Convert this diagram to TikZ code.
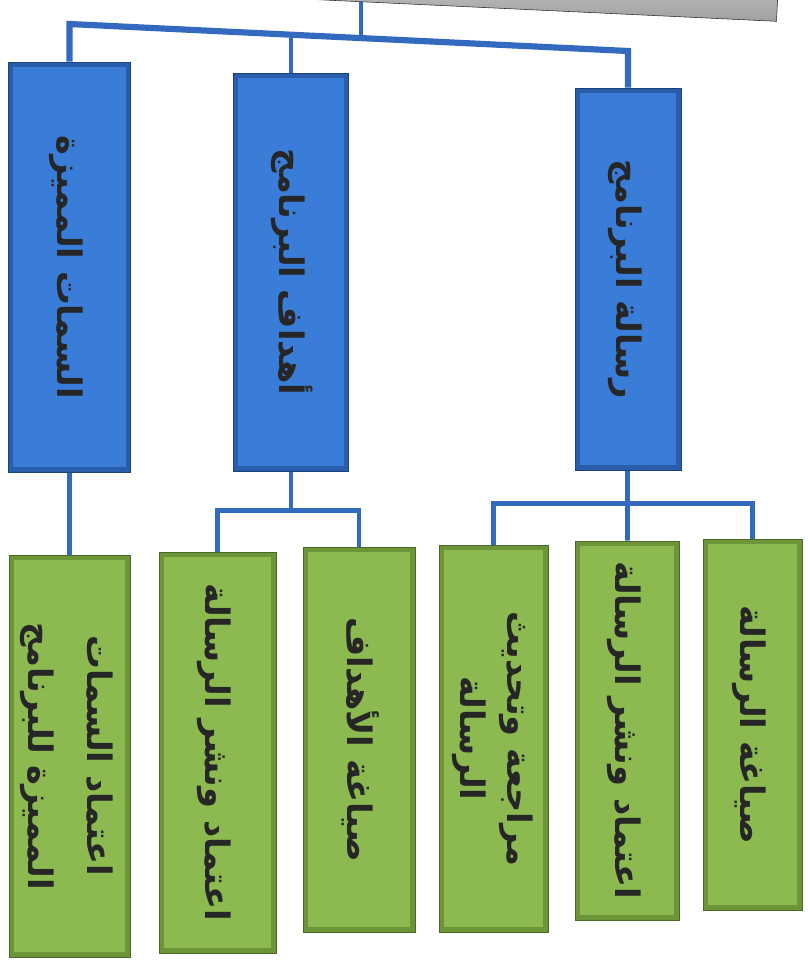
\documentclass[tikz,border=0pt]{standalone}
\usepackage{graphicx}
\usepackage{fontspec}
\newfontfamily\arabicfont[Script=Arabic]{DejaVu Sans}
\TeXXeTstate=1
\usetikzlibrary{backgrounds}

\definecolor{orgblue}{HTML}{3A7DD8}
\definecolor{orgbluedark}{HTML}{2A5EAD}
\definecolor{orggreen}{HTML}{8DBA50}
\definecolor{orggreendark}{HTML}{6B9537}
\definecolor{linkblue}{HTML}{3369BF}

\newcommand{\ar}[1]{\beginR #1\endR}
\newcommand{\vtext}[2][42]{\rotatebox{-90}{\arabicfont\bfseries\fontsize{24}{#1}\selectfont
  \begin{tabular}{@{}c@{}}#2\end{tabular}}}

\tikzset{
  bevel/.style 2 args={rectangle, inner sep=0pt, fill=#2, draw=#2!70!black,
    line width=0.5pt, text=black!85,
    path picture={\fill[#1] ([shift={(3.5pt,-3.5pt)}]path picture bounding box.north west)
      rectangle ([shift={(-3.5pt,3.5pt)}]path picture bounding box.south east);}},
  bluebox/.style={bevel={orgblue}{orgbluedark}},
  greenbox/.style={bevel={orggreen}{orggreendark}},
  boxdim/.style 2 args={minimum width=#1*0.025cm, minimum height=#2*0.025cm},
  link/.style={draw=linkblue, line width=3.4pt},
}

\begin{document}
\begin{tikzpicture}[x=0.025cm, y=-0.025cm]
  \useasboundingbox (0,0) rectangle (808,960);
  % top box, only its lower edge is on the page
  \node[boxdim={832}{50}, rotate=-2.7, anchor=south, draw=gray!35!black,
    top color=gray!15, bottom color=gray!75] (root) at (361,2) {};
  % second row
  \node[bluebox, boxdim={122}{410}] (traits) at (69.5,267) {\vtext{\ar{السمات المميزة}}};
  \node[bluebox, boxdim={115}{398}] (goals) at (291,272) {\vtext{\ar{أهداف البرنامج}}};
  \node[bluebox, boxdim={106}{382}] (mission) at (628,279) {\vtext{\ar{رسالة البرنامج}}};
  % bottom row
  \node[greenbox, boxdim={121}{402}] (adoptT) at (69.5,756)
    {\vtext{\ar{اعتماد السمات}\\\ar{المميزة للبرنامج}}};
  \node[greenbox, boxdim={117}{401}] (adoptG) at (217.5,752.5) {\vtext{\ar{اعتماد ونشر الرسالة}}};
  \node[greenbox, boxdim={112}{385}] (draftG) at (359,739.5) {\vtext{\ar{صياغة الأهداف}}};
  \node[greenbox, boxdim={109}{387}] (review) at (493.5,738.5)
    {\vtext[34]{\ar{مراجعة وتحديث}\\\ar{الرسالة}}};
  \node[greenbox, boxdim={104}{379}] (adoptM) at (627,730.5) {\vtext{\ar{اعتماد ونشر الرسالة}}};
  \node[greenbox, boxdim={99}{371}] (draftM) at (752.5,724.5) {\vtext{\ar{صياغة الرسالة}}};

  \coordinate (t0) at (361,38);
  \coordinate (t1) at (69.5,24);
  \coordinate (t2) at (291,34.7);
  \coordinate (t3) at (628,51);

  \begin{scope}[on background layer]
    \draw[link] (root.south) -- (t0);
    \draw[link, line width=4.4pt] (traits.north) -- (t1) -- (t3) -- (mission.north);
    \draw[link] (t2) -- (goals.north);
    \draw[link] (traits) -- (adoptT);
    \draw[link] (goals.south) -- ++(0,39) -| (adoptG.north);
    \draw[link] (goals.south) -- ++(0,39) -| (draftG.north);
    \draw[link] (mission.south) -- ++(0,33) -| (review.north);
    \draw[link] (mission.south) -- ++(0,33) -| (draftM.north);
    \draw[link] (mission) -- (adoptM);
  \end{scope}
\end{tikzpicture}
\end{document}
